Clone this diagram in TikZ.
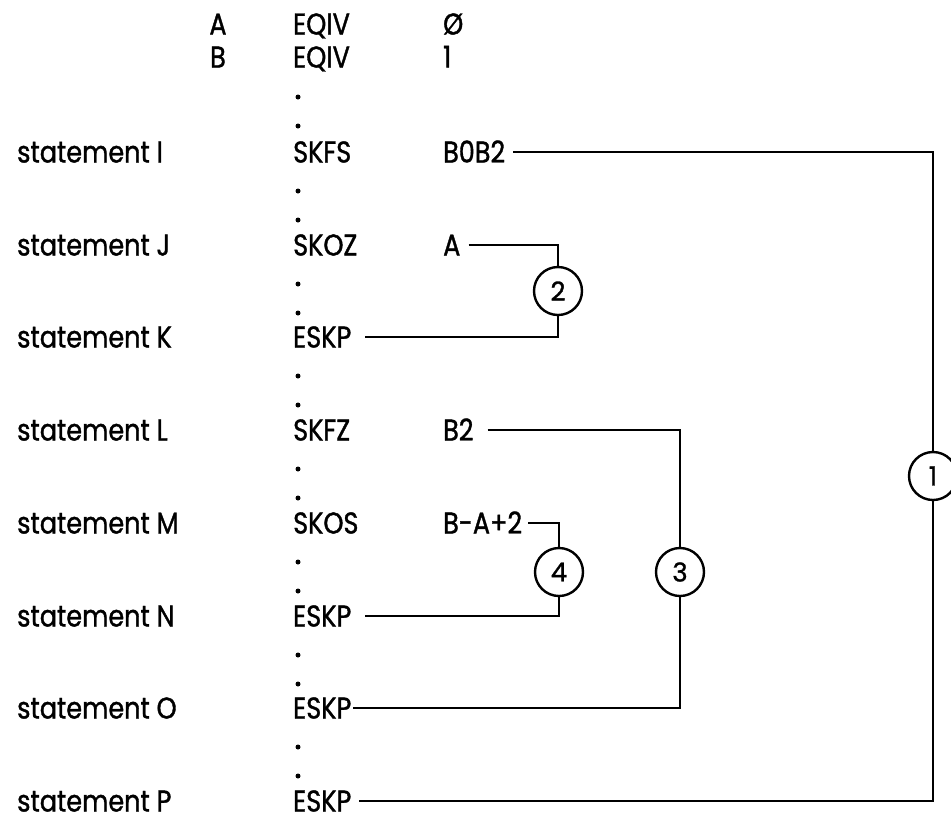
\documentclass[tikz,border=0pt]{standalone}
\usepackage{fontspec}
\setmainfont{Poppins}[FakeStretch=0.85,FakeBold=1.2]
\newfontfamily\circfont{Poppins}[FakeBold=1.2]
\begin{document}
\begin{tikzpicture}[x=1pt,y=-1pt,
  txt/.style={anchor=west, inner sep=0pt, text height=21pt, text depth=0pt, font=\fontsize{30}{36}\selectfont},
  num/.style={circle, draw, line width=2.4pt, minimum size=48pt, inner sep=0pt, font=\circfont\fontsize{26}{30}\selectfont},
  conn/.style={line width=2.6pt},
  dotmark/.style={circle, fill, inner sep=0pt, minimum size=5pt}]
\useasboundingbox (0,0) rectangle (951,823);
% header
\node[txt, anchor=center] (hA) at (218,24) {A};
\node[txt] (eA) at (293,24) {EQIV};
\node[txt] (vA) at (443,24) {Ø};
\node[txt, anchor=center] (hB) at (218,57) {B};
\node[txt] (eB) at (293,57) {EQIV};
\node[txt] (vB) at (443,57) {1};
% dots
\foreach \r [count=\i] in {58,152,245,337,430,523,616,708} {
  \node[dotmark] (da\i) at (298,\r+39) {};
  \node[dotmark] (db\i) at (298,\r+68) {};
}
% statements
\node[txt] (sI) at (17,152) {statement I};
\node[txt] (sJ) at (17,245) {statement J};
\node[txt] (sK) at (17,337) {statement K};
\node[txt] (sL) at (17,430) {statement L};
\node[txt] (sM) at (17,523) {statement M};
\node[txt] (sN) at (17,616) {statement N};
\node[txt] (sO) at (17,708) {statement O};
\node[txt] (sP) at (17,801) {statement P};
% opcodes
\node[txt] (kI) at (293,152) {SKFS};
\node[txt] (kJ) at (293,245) {SKOZ};
\node[txt] (kK) at (293,337) {ESKP};
\node[txt] (kL) at (293,430) {SKFZ};
\node[txt] (kM) at (293,523) {SKOS};
\node[txt] (kN) at (293,616) {ESKP};
\node[txt] (kO) at (293,708) {ESKP};
\node[txt] (kP) at (293,801) {ESKP};
% operands
\node[txt] (oI) at (443,152) {B0B2};
\node[txt] (oJ) at (443,245) {A};
\node[txt] (oL) at (443,430) {B2};
\node[txt] (oM) at (443,523) {B-A+2};
% circles
\node[num] (c1) at (933,476) {1};
\node[num] (c2) at (558,291) {2};
\node[num] (c3) at (680,572) {3};
\node[num] (c4) at (559,572) {4};
% connectors
\draw[conn] ([xshift=8pt]oI.east) -| (c1.north);
\draw[conn] (c1.south) |- ([xshift=8pt]kP.east);
\draw[conn] ([xshift=8pt]oJ.east) -| (c2.north);
\draw[conn] (c2.south) |- ([xshift=14pt]kK.east);
\draw[conn] ([xshift=14pt]oL.east) -| (c3.north);
\draw[conn] (c3.south) |- ([xshift=2pt]kO.east);
\draw[conn] ([xshift=6pt]oM.east) -| (c4.north);
\draw[conn] (c4.south) |- ([xshift=14pt]kN.east);
\end{tikzpicture}
\end{document}
